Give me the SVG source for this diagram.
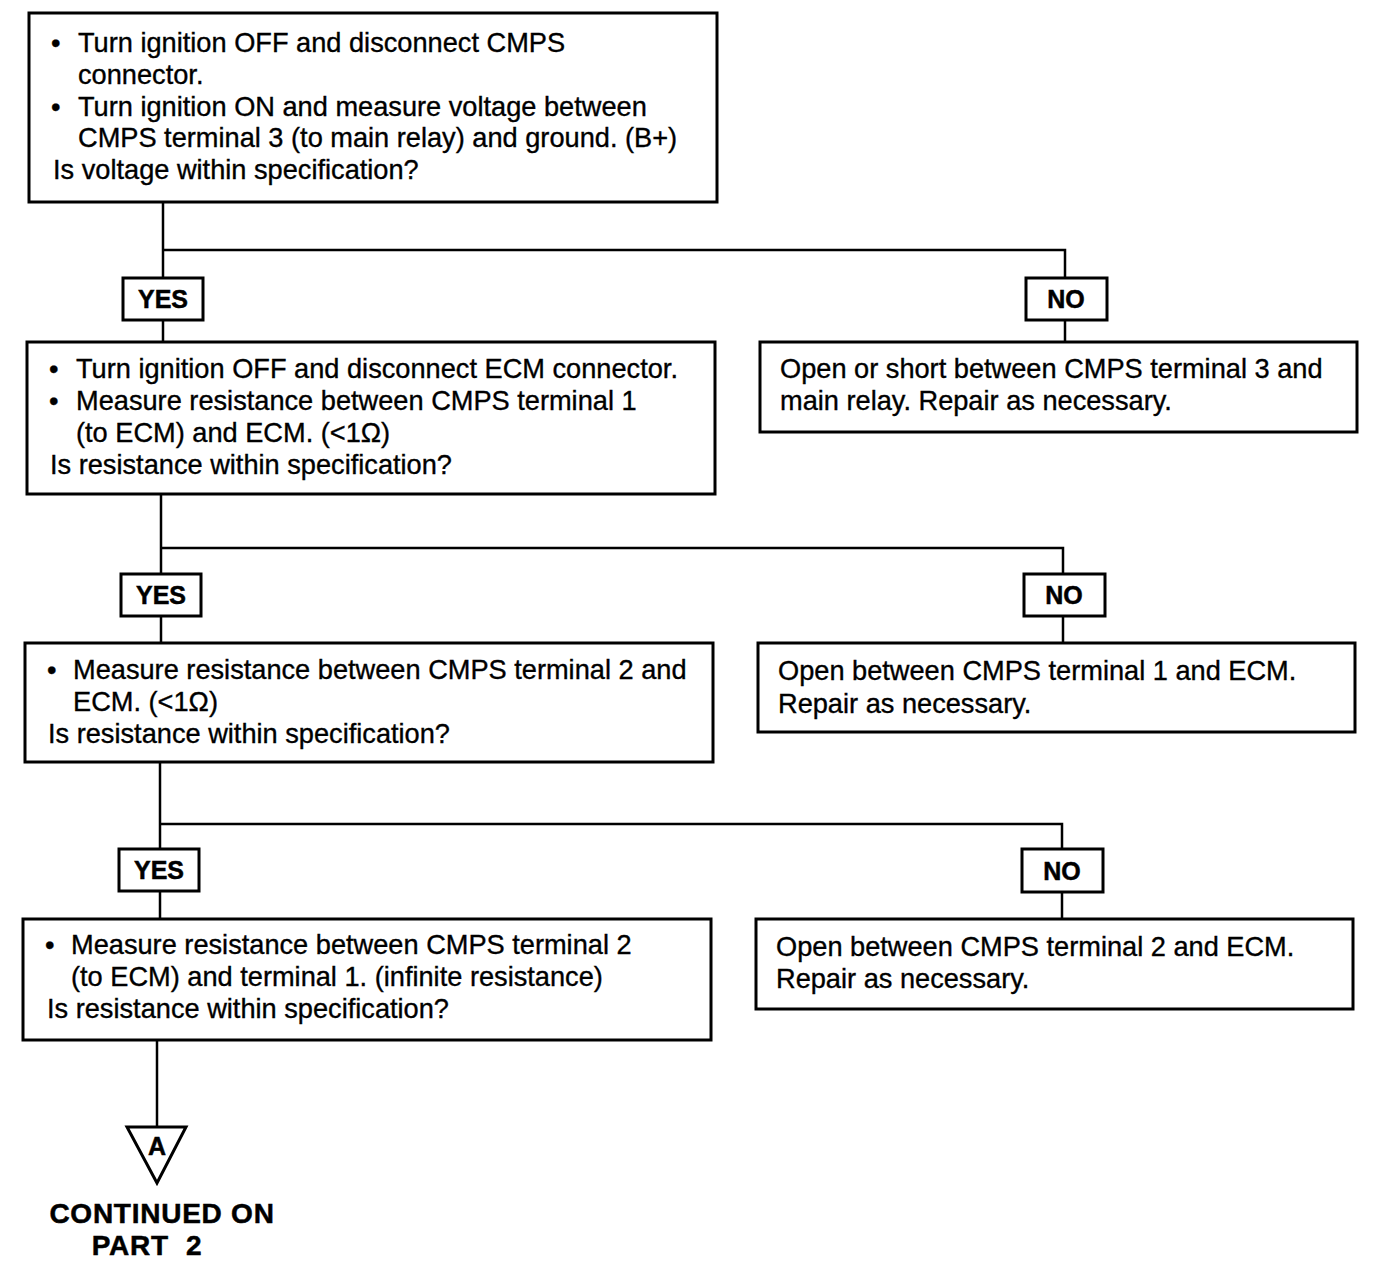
<svg xmlns="http://www.w3.org/2000/svg" width="1392" height="1270" viewBox="0 0 1392 1270">
<style>
.box{fill:#fff;stroke:#000;stroke-width:3}
.lbl{fill:#fff;stroke:#000;stroke-width:3}
.t{font-family:"Liberation Sans",Arial,sans-serif;font-size:27.2px;fill:#000;stroke:#000;stroke-width:0.35}
.b{font-family:"Liberation Sans",Arial,sans-serif;font-size:25px;font-weight:bold;fill:#000;stroke:#000;stroke-width:0.5}
.cont{font-size:28px;letter-spacing:0.75px}
.c{fill:none;stroke:#000;stroke-width:2.5}
</style>
<rect width="1392" height="1270" fill="#fff"/>
<g id="connectors">
<polyline class="c" points="163,202 163,278"/>
<polyline class="c" points="163,250 1065,250 1065,278"/>
<polyline class="c" points="163,320 163,342"/>
<polyline class="c" points="1065,320 1065,342"/>
<polyline class="c" points="161,494 161,574"/>
<polyline class="c" points="161,548 1063,548 1063,574"/>
<polyline class="c" points="161,616 161,643"/>
<polyline class="c" points="1063,616 1063,643"/>
<polyline class="c" points="160,762 160,849"/>
<polyline class="c" points="160,824 1062,824 1062,849"/>
<polyline class="c" points="160,891 160,919"/>
<polyline class="c" points="1062,892 1062,919"/>
<polyline class="c" points="157,1040 157,1127"/>
</g>
<g id="q1">
<rect class="box" x="29" y="13" width="688" height="189"/>
<text class="t" x="51" y="52">•</text><text class="t" x="78" y="52">Turn ignition OFF and disconnect CMPS</text>
<text class="t" x="78" y="84">connector.</text>
<text class="t" x="51" y="116">•</text><text class="t" x="78" y="116">Turn ignition ON and measure voltage between</text>
<text class="t" x="78" y="147">CMPS terminal 3 (to main relay) and ground. (B+)</text>
<text class="t" x="53" y="179">Is voltage within specification?</text>
</g>
<g id="yes1"><rect class="lbl" x="123" y="278" width="80" height="42"/><text class="b" x="163" y="308" text-anchor="middle">YES</text></g>
<g id="no1"><rect class="lbl" x="1026" y="278" width="81" height="42"/><text class="b" x="1066" y="308" text-anchor="middle">NO</text></g>
<g id="q2">
<rect class="box" x="27" y="342" width="688" height="152"/>
<text class="t" x="49" y="378">•</text><text class="t" x="76" y="378">Turn ignition OFF and disconnect ECM connector.</text>
<text class="t" x="49" y="410">•</text><text class="t" x="76" y="410">Measure resistance between CMPS terminal 1</text>
<text class="t" x="76" y="442">(to ECM) and ECM. (&lt;1Ω)</text>
<text class="t" x="50" y="474">Is resistance within specification?</text>
</g>
<g id="r1">
<rect class="box" x="760" y="342" width="597" height="90"/>
<text class="t" x="780" y="378">Open or short between CMPS terminal 3 and</text>
<text class="t" x="780" y="410">main relay. Repair as necessary.</text>
</g>
<g id="yes2"><rect class="lbl" x="121" y="574" width="80" height="42"/><text class="b" x="161" y="604" text-anchor="middle">YES</text></g>
<g id="no2"><rect class="lbl" x="1024" y="574" width="81" height="42"/><text class="b" x="1064" y="604" text-anchor="middle">NO</text></g>
<g id="q3">
<rect class="box" x="25" y="643" width="688" height="119"/>
<text class="t" x="47" y="679">•</text><text class="t" x="73" y="679">Measure resistance between CMPS terminal 2 and</text>
<text class="t" x="73" y="711">ECM. (&lt;1Ω)</text>
<text class="t" x="48" y="743">Is resistance within specification?</text>
</g>
<g id="r2">
<rect class="box" x="758" y="643" width="597" height="89"/>
<text class="t" x="778" y="680">Open between CMPS terminal 1 and ECM.</text>
<text class="t" x="778" y="713">Repair as necessary.</text>
</g>
<g id="yes3"><rect class="lbl" x="119" y="849" width="80" height="42"/><text class="b" x="159" y="879" text-anchor="middle">YES</text></g>
<g id="no3"><rect class="lbl" x="1022" y="849" width="81" height="43"/><text class="b" x="1062" y="880" text-anchor="middle">NO</text></g>
<g id="q4">
<rect class="box" x="23" y="919" width="688" height="121"/>
<text class="t" x="45" y="954">•</text><text class="t" x="71" y="954">Measure resistance between CMPS terminal 2</text>
<text class="t" x="71" y="986">(to ECM) and terminal 1. (infinite resistance)</text>
<text class="t" x="47" y="1018">Is resistance within specification?</text>
</g>
<g id="r3">
<rect class="box" x="756" y="919" width="597" height="90"/>
<text class="t" x="776" y="956">Open between CMPS terminal 2 and ECM.</text>
<text class="t" x="776" y="988">Repair as necessary.</text>
</g>
<g id="a">
<polygon points="127,1127 186,1127 157,1183" fill="#fff" stroke="#000" stroke-width="3" stroke-linejoin="miter"/>
<text class="b" x="157" y="1155" text-anchor="middle" font-size="20">A</text>
<text class="b cont" x="162" y="1223" text-anchor="middle">CONTINUED ON</text>
<text class="b cont" x="147" y="1255" text-anchor="middle">PART&#160; 2</text>
</g>
</svg>
